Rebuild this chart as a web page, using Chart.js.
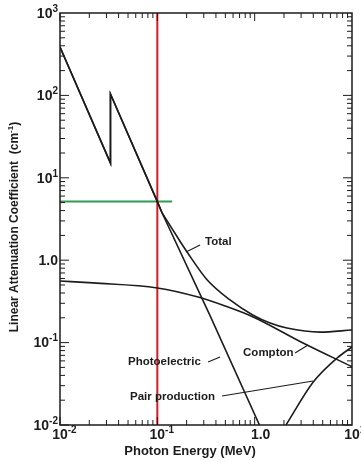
<!DOCTYPE html>
<html>
<head>
<meta charset="utf-8">
<script src="https://cdn.jsdelivr.net/npm/chart.js@4/dist/chart.umd.min.js"></script>
<style>
  html, body { margin: 0; padding: 0; background: #ffffff; }
  #wrap { width: 361px; height: 462px; }
</style>
</head>
<body>
<div id="wrap"><canvas id="c" width="361" height="462"></canvas></div>
<script>
// ---------- DATA ----------
const energyTotalLow = [0.01, 0.033, 0.033, 0.1, 0.112];
const totalLow       = [386, 15.1, 104, 5.13, 3.74];

const energyTotalHigh = [0.112, 0.171, 0.202, 0.324, 0.558, 0.965, 1.44, 2.15, 4.70, 10];
const totalHigh       = [3.74, 1.70, 1.26, 0.58, 0.33, 0.215, 0.173, 0.150, 0.134, 0.142];

const energyPhoto = [0.01, 0.033, 0.033, 0.1, 0.112, 0.348, 1.12];
const photo       = [386, 15.1, 104, 5.13, 3.74, 0.212, 0.01];

const energyCompton = [0.01, 0.0218, 0.1, 0.262, 0.497, 0.965, 3.14, 10];
const compton       = [0.56, 0.53, 0.46, 0.357, 0.278, 0.205, 0.099, 0.051];

const energyPair = [2.1, 3.98, 7.03, 10];
const pair       = [0.01, 0.033, 0.065, 0.0885];

const markerEnergy = [0.1, 0.1];
const markerRange  = [0.01, 1000];
const levelEnergy  = [0.01, 0.142];
const levelValue   = [5.15, 5.15];

const xTickValues = [0.01, 0.1, 1, 10];
const xTickBase   = ['10', '10', '1.0', '10'];
const xTickSup    = ['-2', '-1', '', '1'];
const yTickValues = [1000, 100, 10, 1, 0.1, 0.01];
const yTickBase   = ['10', '10', '10', '1.0', '10', '10'];
const yTickSup    = ['3', '2', '1', '', '-1', '-2'];

const labelText = ['Total', 'Photoelectric', 'Compton', 'Pair production'];
const labelX    = [0.309, 0.050, 0.760, 0.0524];
const labelY    = [1.66, 0.058, 0.0748, 0.0219];
const leaderX1  = [0.197, 0.332, 2.60, 0.462];
const leaderY1  = [1.26, 0.058, 0.0748, 0.0225];
const leaderX2  = [0.275, 0.441, 3.54, 3.98];
const leaderY2  = [1.53, 0.0669, 0.0935, 0.0342];

const xTitle = 'Photon Energy (MeV)';
const yTitle = 'Linear Attenuation Coefficient  (cm';

// ---------- helpers ----------
const pts = (xs, ys) => xs.map((x, i) => ({ x: x, y: ys[i] }));
const INK = '#1c1c1c';
const FONT = '"Liberation Sans", Arial, Helvetica, sans-serif';

function curve(data, tension, mode) {
  return {
    data: data, borderColor: INK, borderWidth: 1.6, pointRadius: 0,
    fill: false, tension: tension, cubicInterpolationMode: mode || 'default'
  };
}

const decorPlugin = {
  id: 'decor',
  afterDraw(chart) {
    const ctx = chart.ctx;
    const xs = chart.scales.x, ys = chart.scales.y;
    const a = chart.chartArea;
    ctx.save();
    ctx.strokeStyle = INK;
    ctx.fillStyle = INK;

    // frame
    ctx.lineWidth = 1.5;
    ctx.strokeRect(a.left, a.top, a.right - a.left, a.bottom - a.top);

    // tick marks (inward) on all four sides
    ctx.lineWidth = 1;
    ctx.beginPath();
    for (let d = -2; d < 1; d++) {
      for (let m = 1; m <= 9; m++) {
        const v = m * Math.pow(10, d);
        const px = xs.getPixelForValue(v);
        const len = m === 1 ? 8 : 5;
        ctx.moveTo(px, a.bottom); ctx.lineTo(px, a.bottom - len);
        ctx.moveTo(px, a.top); ctx.lineTo(px, a.top + len);
      }
    }
    for (let d = -2; d < 3; d++) {
      for (let m = 1; m <= 9; m++) {
        const v = m * Math.pow(10, d);
        const py = ys.getPixelForValue(v);
        const len = m === 1 ? 9 : 5;
        ctx.moveTo(a.left, py); ctx.lineTo(a.left + len, py);
        ctx.moveTo(a.right, py); ctx.lineTo(a.right - len, py);
      }
    }
    ctx.stroke();

    // tick labels
    const baseFont = 'bold 14px ' + FONT;
    const supFont = 'bold 10px ' + FONT;
    ctx.textBaseline = 'middle';
    // y labels: right aligned
    yTickValues.forEach((v, i) => {
      const py = ys.getPixelForValue(v);
      ctx.font = supFont;
      const sw = yTickSup[i] ? ctx.measureText(yTickSup[i]).width : 0;
      ctx.font = baseFont;
      const bw = ctx.measureText(yTickBase[i]).width;
      const right = a.left - 2;
      ctx.textAlign = 'left';
      ctx.fillText(yTickBase[i], right - sw - bw, py + 1);
      if (yTickSup[i]) { ctx.font = supFont; ctx.fillText(yTickSup[i], right - sw, py - 4); }
    });
    // x labels
    xTickValues.forEach((v, i) => {
      const px = xs.getPixelForValue(v);
      const py = a.bottom + 10;
      ctx.font = baseFont;
      const bw = ctx.measureText(xTickBase[i]).width;
      ctx.textAlign = 'left';
      const shift = xTickSup[i] ? 0 : 6;
      ctx.fillText(xTickBase[i], px - bw / 2 + shift, py);
      if (xTickSup[i]) { ctx.font = supFont; ctx.fillText(xTickSup[i], px + bw / 2, py - 5); }
    });

    // axis titles
    ctx.font = 'bold 13px ' + FONT;
    ctx.textAlign = 'center';
    ctx.fillText(xTitle, 190, 451);

    ctx.save();
    ctx.translate(15, (a.top + a.bottom) / 2 + 8);
    ctx.rotate(-Math.PI / 2);
    ctx.font = 'bold 12px ' + FONT;
    const tw = ctx.measureText(yTitle).width;
    ctx.font = 'bold 8px ' + FONT;
    const sup = '-1';
    const supw = ctx.measureText(sup).width;
    ctx.font = 'bold 12px ' + FONT;
    const pw = ctx.measureText(')').width;
    const total = tw + supw + pw;
    ctx.textAlign = 'left';
    ctx.fillText(yTitle, -total / 2, 0);
    ctx.font = 'bold 8px ' + FONT;
    ctx.fillText(sup, -total / 2 + tw, -4);
    ctx.font = 'bold 12px ' + FONT;
    ctx.fillText(')', -total / 2 + tw + supw, 0);
    ctx.restore();

    // curve annotations and leaders
    ctx.font = 'bold 11.5px ' + FONT;
    ctx.textAlign = 'left';
    ctx.textBaseline = 'middle';
    labelText.forEach((t, i) => {
      ctx.fillText(t, xs.getPixelForValue(labelX[i]), ys.getPixelForValue(labelY[i]));
    });
    ctx.lineWidth = 1.1;
    ctx.beginPath();
    labelText.forEach((t, i) => {
      ctx.moveTo(xs.getPixelForValue(leaderX1[i]), ys.getPixelForValue(leaderY1[i]));
      ctx.lineTo(xs.getPixelForValue(leaderX2[i]), ys.getPixelForValue(leaderY2[i]));
    });
    ctx.stroke();
    ctx.restore();
  }
};

new Chart(document.getElementById('c'), {
  type: 'line',
  data: {
    datasets: [
      curve(pts(energyTotalLow, totalLow), 0),
      curve(pts(energyTotalHigh, totalHigh), 0, 'monotone'),
      curve(pts(energyPhoto, photo), 0),
      curve(pts(energyCompton, compton), 0, 'monotone'),
      curve(pts(energyPair, pair), 0, 'monotone'),
      { data: pts(markerEnergy, markerRange), borderColor: '#e3161c', borderWidth: 2, pointRadius: 0, fill: false },
      { data: pts(levelEnergy, levelValue), borderColor: '#2e9a52', borderWidth: 2, pointRadius: 0, fill: false }
    ]
  },
  options: {
    responsive: false,
    devicePixelRatio: 1,
    animation: false,
    layout: { padding: { left: 60, top: 13, right: 9, bottom: 37 } },
    plugins: { legend: { display: false }, tooltip: { enabled: false } },
    scales: {
      x: { type: 'logarithmic', min: 0.01, max: 10, display: false },
      y: { type: 'logarithmic', min: 0.01, max: 1000, display: false }
    }
  },
  plugins: [decorPlugin]
});
</script>
</body>
</html>
